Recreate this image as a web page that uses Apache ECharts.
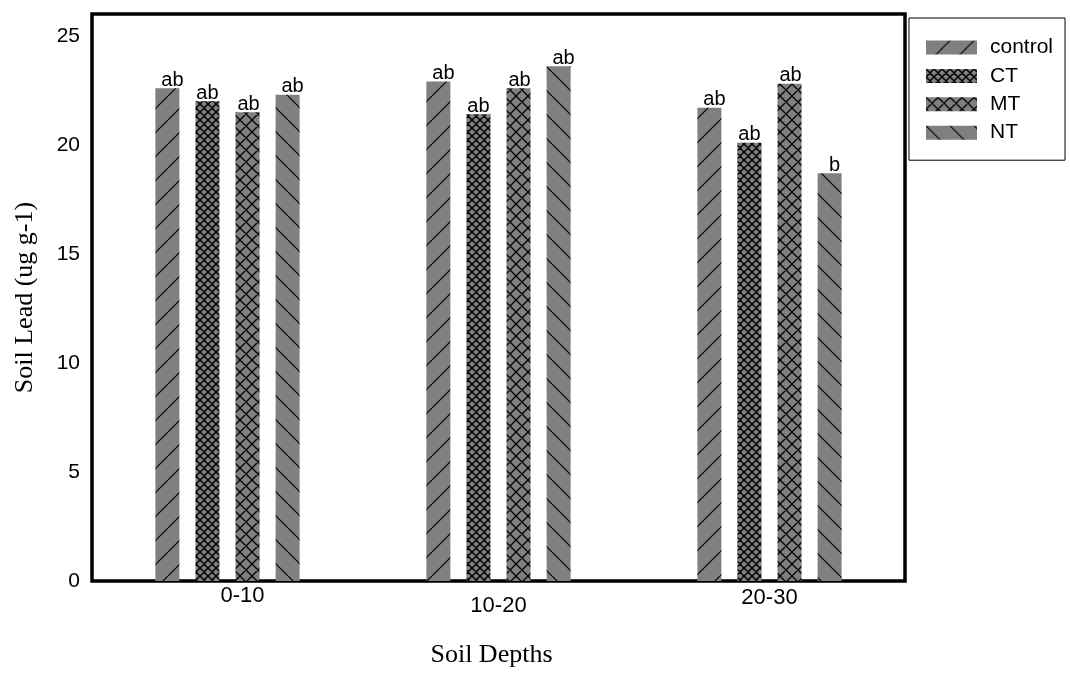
<!DOCTYPE html>
<html>
<head>
<meta charset="utf-8">
<script src="https://cdn.jsdelivr.net/npm/echarts@6/dist/echarts.min.js"></script>
<style>
html,body{margin:0;padding:0;background:#fff;}
#chart{width:1070px;height:673px;}
</style>
</head>
<body>
<div id="chart"></div>
<script>
// ---- data ----
var categories = ['0-10', '10-20', '20-30'];
var seriesNames = ['control', 'CT', 'MT', 'NT'];
var controlValues = [22.6, 22.9, 21.7];
var ctValues = [22.0, 21.4, 20.1];
var mtValues = [21.5, 22.6, 22.8];
var ntValues = [22.3, 23.6, 18.7];
var controlLetters = ['ab', 'ab', 'ab'];
var ctLetters = ['ab', 'ab', 'ab'];
var mtLetters = ['ab', 'ab', 'ab'];
var ntLetters = ['ab', 'ab', 'b'];
var yTicks = [0, 5, 10, 15, 20, 25];

// ---- patterns ----
function makePattern(size, kind, lw) {
  var c = document.createElement('canvas');
  c.width = size; c.height = size;
  var ctx = c.getContext('2d');
  ctx.fillStyle = '#808080';
  ctx.fillRect(0, 0, size, size);
  ctx.strokeStyle = '#000';
  ctx.lineWidth = lw;
  ctx.beginPath();
  for (var k = -1; k <= 1; k++) {
    if (kind === 'fwd' || kind === 'cross') {
      ctx.moveTo(k * size, size);
      ctx.lineTo(k * size + size, 0);
    }
    if (kind === 'back' || kind === 'cross') {
      ctx.moveTo(k * size, 0);
      ctx.lineTo(k * size + size, size);
    }
  }
  ctx.stroke();
  return { image: c, repeat: 'repeat' };
}
var fills = [
  makePattern(24, 'fwd', 1.2),
  makePattern(8, 'cross', 1.5),
  makePattern(12, 'cross', 1.3),
  makePattern(24, 'back', 1.2)
];
var valueSets = [controlValues, ctValues, mtValues, ntValues];
var letterSets = [controlLetters, ctLetters, mtLetters, ntLetters];
var labelOffsets = [[5, 0], [0, 0], [1, 0], [5, 0]];
// per-category label placement quirks of the original
var catLabelPadding = [[0, 0, 0, 30], [10, 0, 0, 0], [2, 0, 0, 0]];

var chart = echarts.init(document.getElementById('chart'));
var series = seriesNames.map(function (name, i) {
  return {
    name: name,
    type: 'bar',
    barWidth: 24,
    barGap: '67%',
    data: valueSets[i],
    itemStyle: { color: fills[i] },
    label: {
      show: true,
      position: 'top',
      distance: -2,
      offset: labelOffsets[i],
      color: '#000',
      fontFamily: 'Liberation Sans, Arial, sans-serif',
      fontSize: 20,
      formatter: function (p) { return letterSets[i][p.dataIndex]; }
    }
  };
});

chart.setOption({
  animation: false,
  backgroundColor: '#fff',
  grid: {
    left: 92, top: 14, right: 165, bottom: 90,
    show: true, borderColor: '#000', borderWidth: 3.5,
    backgroundColor: 'transparent'
  },
  legend: {
    orient: 'vertical',
    left: 909, top: 18,
    padding: [19, 12, 17, 17],
    itemWidth: 51, itemHeight: 14,
    itemGap: 7.4,
    icon: 'rect',
    borderColor: '#000', borderWidth: 1,
    textStyle: {
      color: '#000', fontFamily: 'Liberation Sans, Arial, sans-serif',
      fontSize: 21, lineHeight: 21, padding: [0, 0, 0, 8]
    },
    data: seriesNames
  },
  xAxis: {
    type: 'category',
    data: categories.map(function (c, i) {
      return { value: c, textStyle: { padding: catLabelPadding[i] } };
    }),
    axisLine: { show: false },
    axisTick: { show: false },
    axisLabel: {
      color: '#000', fontFamily: 'Liberation Sans, Arial, sans-serif',
      fontSize: 22, margin: 4
    },
    name: 'Soil Depths',
    nameLocation: 'middle',
    nameGap: 61,
    nameTextStyle: {
      color: '#000', fontFamily: 'Liberation Serif, Times New Roman, serif', fontSize: 26,
      padding: [0, 14, 0, 0]
    }
  },
  yAxis: {
    type: 'value',
    min: 0, max: 26, interval: 5,
    splitLine: { show: false },
    axisLine: { show: false },
    axisTick: { show: false },
    axisLabel: {
      color: '#000', fontFamily: 'Liberation Sans, Arial, sans-serif',
      fontSize: 21, margin: 12,
      showMaxLabel: false,
      formatter: function (v) { return yTicks.indexOf(v) >= 0 ? String(v) : ''; }
    },
    name: 'Soil Lead (ug g-1)',
    nameLocation: 'middle',
    nameGap: 54,
    nameTextStyle: { color: '#000', fontFamily: 'Liberation Serif, Times New Roman, serif', fontSize: 26 }
  },
  series: series
});
</script>
</body>
</html>
